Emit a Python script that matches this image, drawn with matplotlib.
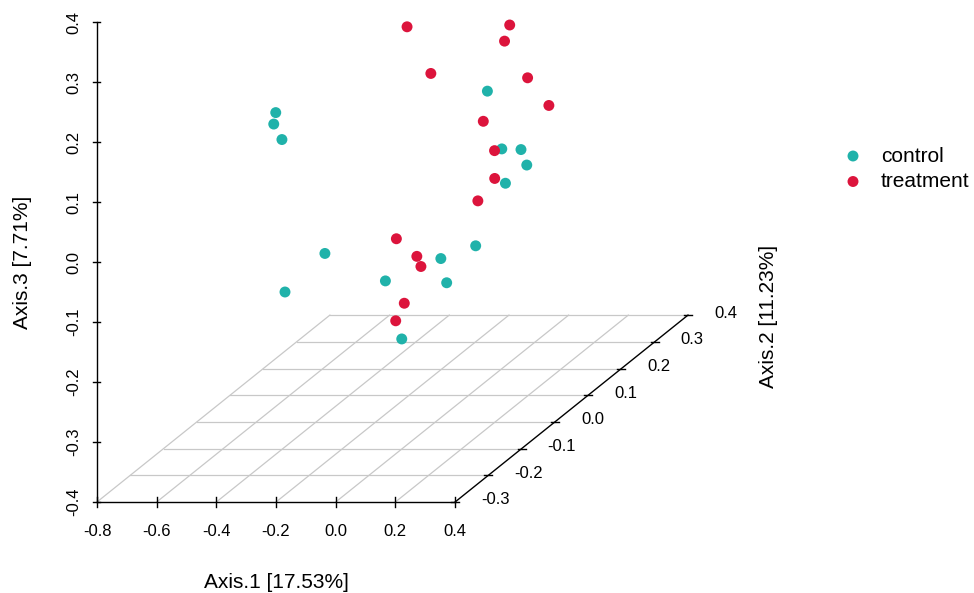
import numpy as np
import matplotlib
matplotlib.use("Agg")
import matplotlib.pyplot as plt
from matplotlib.transforms import offset_copy

plt.rcParams['font.family'] = ['Liberation Sans', 'DejaVu Sans']

# PCoA coordinates (Axis.1, Axis.2, Axis.3) per group
ctrl_x = [-0.647, -0.676, -0.604, -0.315, -0.393, -0.105, -0.001, 0.041, 0.105, 0.067, 0.023, -0.038, -0.168, 0.015, 0.054]
ctrl_y = [0.10, 0.12, 0.08, -0.05, -0.10, 0.25, 0.20, 0.22, 0.18, 0.15, 0.10, 0.05, 0.00, 0.02, -0.15]
ctrl_z = [0.071, 0.043, 0.035, -0.097, -0.139, 0.040, -0.034, -0.044, -0.052, -0.069, -0.151, -0.150, -0.165, -0.177, -0.195]

trt_x = [-0.207, -0.086, -0.081, -0.183, -0.026, 0.023, -0.063, -0.003, 0.031, 0.008, -0.187, -0.085, -0.049, -0.049, -0.022]
trt_y = [0.10, 0.30, 0.28, 0.15, 0.30, 0.32, 0.20, 0.18, 0.15, 0.12, 0.05, 0.02, 0.00, -0.05, -0.10]
trt_z = [0.214, 0.128, 0.110, 0.114, 0.040, -0.015, 0.012, -0.028, -0.061, -0.085, -0.117, -0.133, -0.141, -0.180, -0.187]

x_ticks = [-0.8, -0.6, -0.4, -0.2, 0.0, 0.2, 0.4]
y_ticks = [-0.3, -0.2, -0.1, 0.0, 0.1, 0.2, 0.3, 0.4]
z_ticks = [-0.4, -0.3, -0.2, -0.1, 0.0, 0.1, 0.2, 0.3, 0.4]

groups = ['control', 'treatment']
colors = ['#20B2AA', '#DC143C']

xlab = 'Axis.1 [17.53%]'
ylab = 'Axis.2 [11.23%]'
zlab = 'Axis.3 [7.71%]'

# oblique projection like scatterplot3d (angle ~40 deg)
ydx = 1.115
ydz = 0.445
y0 = y_ticks[0]


def proj(x, y, z):
    x = np.asarray(x, float)
    y = np.asarray(y, float)
    z = np.asarray(z, float)
    return x + ydx * (y - y0), z + ydz * (y - y0)


W, H = 974, 593
fig = plt.figure(figsize=(W / 100, H / 100), dpi=100)
ax = fig.add_axes([97 / W, 91 / H, 591 / W, 480 / H])
ax.set_xlim(x_ticks[0], x_ticks[-1] + ydx * (y_ticks[-1] - y0))
ax.set_ylim(z_ticks[0], z_ticks[-1])
ax.axis('off')


def off(dx, dy):
    return offset_copy(ax.transData, fig=fig, x=dx, y=dy, units='dots')


zb = z_ticks[0]
grid_kw = dict(color='#c8c8c8', lw=0.9, zorder=1, clip_on=False)
axis_kw = dict(color='black', lw=1.0, zorder=2, clip_on=False)
tick_fs = 12

# grid on the floor
for yv in y_ticks[1:]:
    u, v = proj([x_ticks[0], x_ticks[-1]], [yv, yv], [zb, zb])
    ax.plot(u, v, **grid_kw)
for xv in x_ticks[:-1]:
    u, v = proj([xv, xv], [y_ticks[0], y_ticks[-1]], [zb, zb])
    ax.plot(u, v, **grid_kw)

# x axis
u, v = proj([x_ticks[0], x_ticks[-1]], [y0, y0], [zb, zb])
ax.plot(u, v, **axis_kw)
for xv in x_ticks:
    u, v = proj(xv, y0, zb)
    ax.plot([u, u], [v - 5 / 600, v + 5 / 600], **axis_kw)
    ax.text(u, v, f'{xv:.1f}', transform=off(0, -29), ha='center', va='center', fontsize=tick_fs)
ax.text(*proj((x_ticks[0] + x_ticks[-1]) / 2, y0, zb), xlab, transform=off(0, -80),
        ha='center', va='center', fontsize=15)

# y axis (depth)
u, v = proj([x_ticks[-1], x_ticks[-1]], [y_ticks[0], y_ticks[-1]], [zb, zb])
ax.plot(u, v, **axis_kw)
for yv in y_ticks:
    u, v = proj(x_ticks[-1], yv, zb)
    ax.plot([u - 4 / 298.7, u + 4 / 298.7], [v, v], **axis_kw)
    ax.text(u, v, f'{yv:.1f}', transform=off(26, 2), ha='left', va='center', fontsize=tick_fs)
fig.text(768 / W, 1 - 316 / H, ylab, rotation=90, ha='center', va='center', fontsize=15)

# z axis
ax.plot([x_ticks[0], x_ticks[0]], [z_ticks[0], z_ticks[-1]], **axis_kw)
for zv in z_ticks:
    ax.plot([x_ticks[0] - 4 / 298.7, x_ticks[0] + 3 / 298.7], [zv, zv], **axis_kw)
    ax.text(x_ticks[0], zv, f'{zv:.1f}', transform=off(-23, 0), rotation=90,
            ha='center', va='center', fontsize=tick_fs)
ax.text(x_ticks[0], (z_ticks[0] + z_ticks[-1]) / 2, zlab, transform=off(-74, 0),
        rotation=90, ha='center', va='center', fontsize=15)

# points
u, v = proj(ctrl_x, ctrl_y, ctrl_z)
ax.scatter(u, v, s=62, color=colors[0], edgecolors='none', zorder=3, clip_on=False)
u, v = proj(trt_x, trt_y, trt_z)
ax.scatter(u, v, s=62, color=colors[1], edgecolors='none', zorder=4, clip_on=False)

# legend
for i, (g, c) in enumerate(zip(groups, colors)):
    yy = 1 - (156 + 25.5 * i) / H
    ax.scatter([853 / W], [yy], s=62, color=c, edgecolors='none',
               transform=fig.transFigure, clip_on=False)
    fig.text(881 / W, yy, g, ha='left', va='center', fontsize=15)

fig.savefig('out.png', dpi=100)
